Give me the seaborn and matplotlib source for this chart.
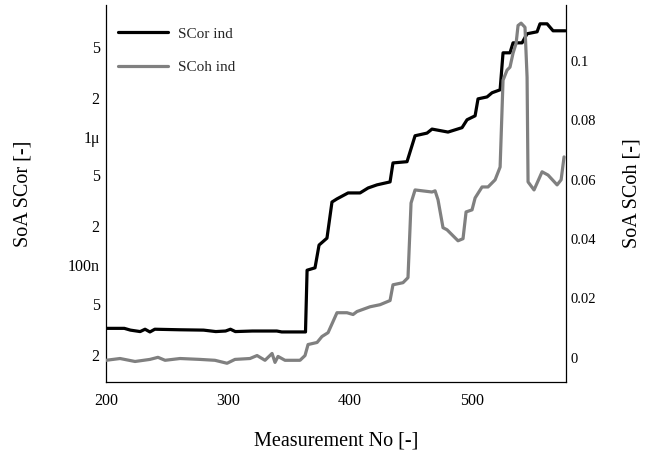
import matplotlib
matplotlib.use("Agg")
import matplotlib.pyplot as plt
import seaborn as sns
import pandas as pd
from matplotlib.ticker import FixedLocator, FuncFormatter, NullLocator
from matplotlib.lines import Line2D

# ---- data ----
scor_x = [200, 215, 220, 228, 232, 236, 240, 260, 280, 290, 298, 302, 306, 320, 340, 344, 363.5,
          364.8, 371.3, 374.6, 381.1, 385.2, 389.3, 398.4, 408.2, 414.8, 422.1, 432.8, 435.2,
          446.7, 453.3, 463.1, 467.2, 480.3, 491.8, 495.9, 502.5, 504.9, 512.3, 516.4, 523.0,
          525.4, 531.1, 533.6, 541.0, 545.1, 553.3, 555.7, 561.5, 566.4, 576.5]
scor_y = [3.2e-8, 3.2e-8, 3.1e-8, 3.02e-8, 3.15e-8, 3.0e-8, 3.15e-8, 3.12e-8, 3.1e-8, 3.02e-8,
          3.05e-8, 3.15e-8, 3.02e-8, 3.05e-8, 3.05e-8, 3.0e-8, 3.0e-8,
          9.1e-8, 9.5e-8, 1.43e-7, 1.62e-7, 3.1e-7, 3.28e-7, 3.65e-7, 3.65e-7, 3.99e-7, 4.22e-7,
          4.45e-7, 6.26e-7, 6.4e-7, 1.02e-6, 1.07e-6, 1.15e-6, 1.09e-6, 1.18e-6, 1.36e-6, 1.46e-6,
          1.98e-6, 2.05e-6, 2.21e-6, 2.33e-6, 4.53e-6, 4.53e-6, 5.42e-6, 5.42e-6, 6.38e-6, 6.61e-6,
          7.63e-6, 7.63e-6, 6.73e-6, 6.73e-6]

scoh_x = [200, 211.5, 223.8, 236, 242.6, 248.4, 260.7, 277, 289.3, 299.2, 305.7, 318, 323.8, 330.3,
          336.1, 338.5, 341, 346.7, 359, 363.1, 365.6, 373, 377, 382, 389.3, 397.5, 402.5, 405.7,
          416.4, 424.6, 432.8, 435.2, 443.4, 447.5, 450, 453.3, 467.2, 469.7, 472.1, 476.2, 479.5,
          488.5, 492.6, 495.1, 500, 502.5, 508.2, 513.1, 518.9, 523, 525.4, 528.7, 531.1, 533.6,
          536.1, 537.7, 540.2, 543.4, 545.1, 545.9, 550.8, 557.4, 562.3, 569.7, 573, 575.4]
scoh_y = [-0.0008, -0.0002, -0.0012, -0.0005, 0.0002, -0.0008, -0.0002, -0.0005, -0.0008, -0.0018,
          -0.0005, -0.0002, 0.0008, -0.0008, 0.0015, -0.0015, 0.0005, -0.0008, -0.0008, 0.0008,
          0.0045, 0.0052, 0.0072, 0.0085, 0.0152, 0.0152, 0.0146, 0.0156, 0.0172, 0.0179, 0.0193,
          0.0246, 0.0253, 0.027, 0.0521, 0.0565, 0.0558, 0.0562, 0.0532, 0.0438, 0.0431, 0.0394,
          0.0401, 0.0491, 0.0498, 0.0538, 0.0575, 0.0575, 0.0599, 0.0642, 0.0934, 0.0968, 0.0978,
          0.1025, 0.1058, 0.1118, 0.1126, 0.1112, 0.0944, 0.0592, 0.0565, 0.0626, 0.0615, 0.0582,
          0.0599, 0.0676]

left_ticks = [2e-8, 5e-8, 1e-7, 2e-7, 5e-7, 1e-6, 2e-6, 5e-6]
left_tick_labels = ["2", "5", "100n", "2", "5", "1\u03bc", "2", "5"]
right_ticks = [0, 0.02, 0.04, 0.06, 0.08, 0.1]
right_tick_labels = ["0", "0.02", "0.04", "0.06", "0.08", "0.1"]
x_ticks = [200, 300, 400, 500]
series_names = ["SCor ind", "SCoh ind"]

# ---- styling ----
sns.set_theme(style="white")
plt.rcParams["font.family"] = ["Liberation Serif", "DejaVu Serif"]

fig = plt.figure(figsize=(6.54, 4.53), dpi=100)
ax = fig.add_axes([106 / 654, 71 / 453, 460 / 654, 377 / 453])
ax2 = ax.twinx()

df1 = pd.DataFrame({"x": scor_x, "y": scor_y})
df2 = pd.DataFrame({"x": scoh_x, "y": scoh_y})

sns.lineplot(data=df1, x="x", y="y", ax=ax, color="black", linewidth=2.3, sort=False)
sns.lineplot(data=df2, x="x", y="y", ax=ax2, color="#808080", linewidth=2.3, sort=False)

ax.set_yscale("log")
ax.set_ylim(1.22e-8, 1.07e-5)
ax.set_xlim(200, 577)
ax2.set_ylim(-0.0081, 0.1187)

ax.yaxis.set_major_locator(FixedLocator(left_ticks))
ax.yaxis.set_minor_locator(NullLocator())
ax.yaxis.set_major_formatter(FuncFormatter(
    lambda v, p: left_tick_labels[min(range(len(left_ticks)), key=lambda i: abs(left_ticks[i] - v) / left_ticks[i])]))
ax.set_xticks(x_ticks)
ax.set_xticklabels([str(t) for t in x_ticks])
ax2.set_yticks(right_ticks)
ax2.set_yticklabels(right_tick_labels)

for a in (ax, ax2):
    for s in a.spines.values():
        s.set_color("black")
        s.set_linewidth(0.9)
    a.spines["top"].set_visible(False)
    a.grid(False)
ax.spines["right"].set_visible(False)
ax2.spines["left"].set_visible(False)
ax2.spines["bottom"].set_visible(False)

ax.tick_params(axis="y", which="both", length=0, pad=4.5, labelsize=11.5, colors="black")
ax.tick_params(axis="x", length=0, pad=8, labelsize=11.5, colors="black")
ax2.tick_params(axis="y", length=0, pad=3, labelsize=10.5, colors="black")

ax.set_xlabel("Measurement No [-]", fontsize=14.5, color="black")
ax.set_ylabel("SoA SCor [-]", fontsize=14.5, color="black")
ax2.set_ylabel("SoA SCoh [-]", fontsize=14.5, color="black")
ax.xaxis.label.set_va("center")
ax.yaxis.label.set_va("center")
ax2.yaxis.label.set_va("center")
ax.xaxis.set_label_coords(0.5, (382 - 441) / 377)
ax.yaxis.set_label_coords((23 - 106) / 460, 0.5)
ax2.yaxis.set_label_coords((632 - 106) / 460, 0.5)

handles = [Line2D([], [], color="black", lw=2.3), Line2D([], [], color="#808080", lw=2.3)]
leg = ax2.legend(handles, series_names, loc="upper left", bbox_to_anchor=(0.003, 0.97),
                 frameon=False, fontsize=11, handlelength=3.3, labelspacing=1.3,
                 handletextpad=0.6, borderaxespad=0.3)

fig.savefig("out.png", dpi=100)
